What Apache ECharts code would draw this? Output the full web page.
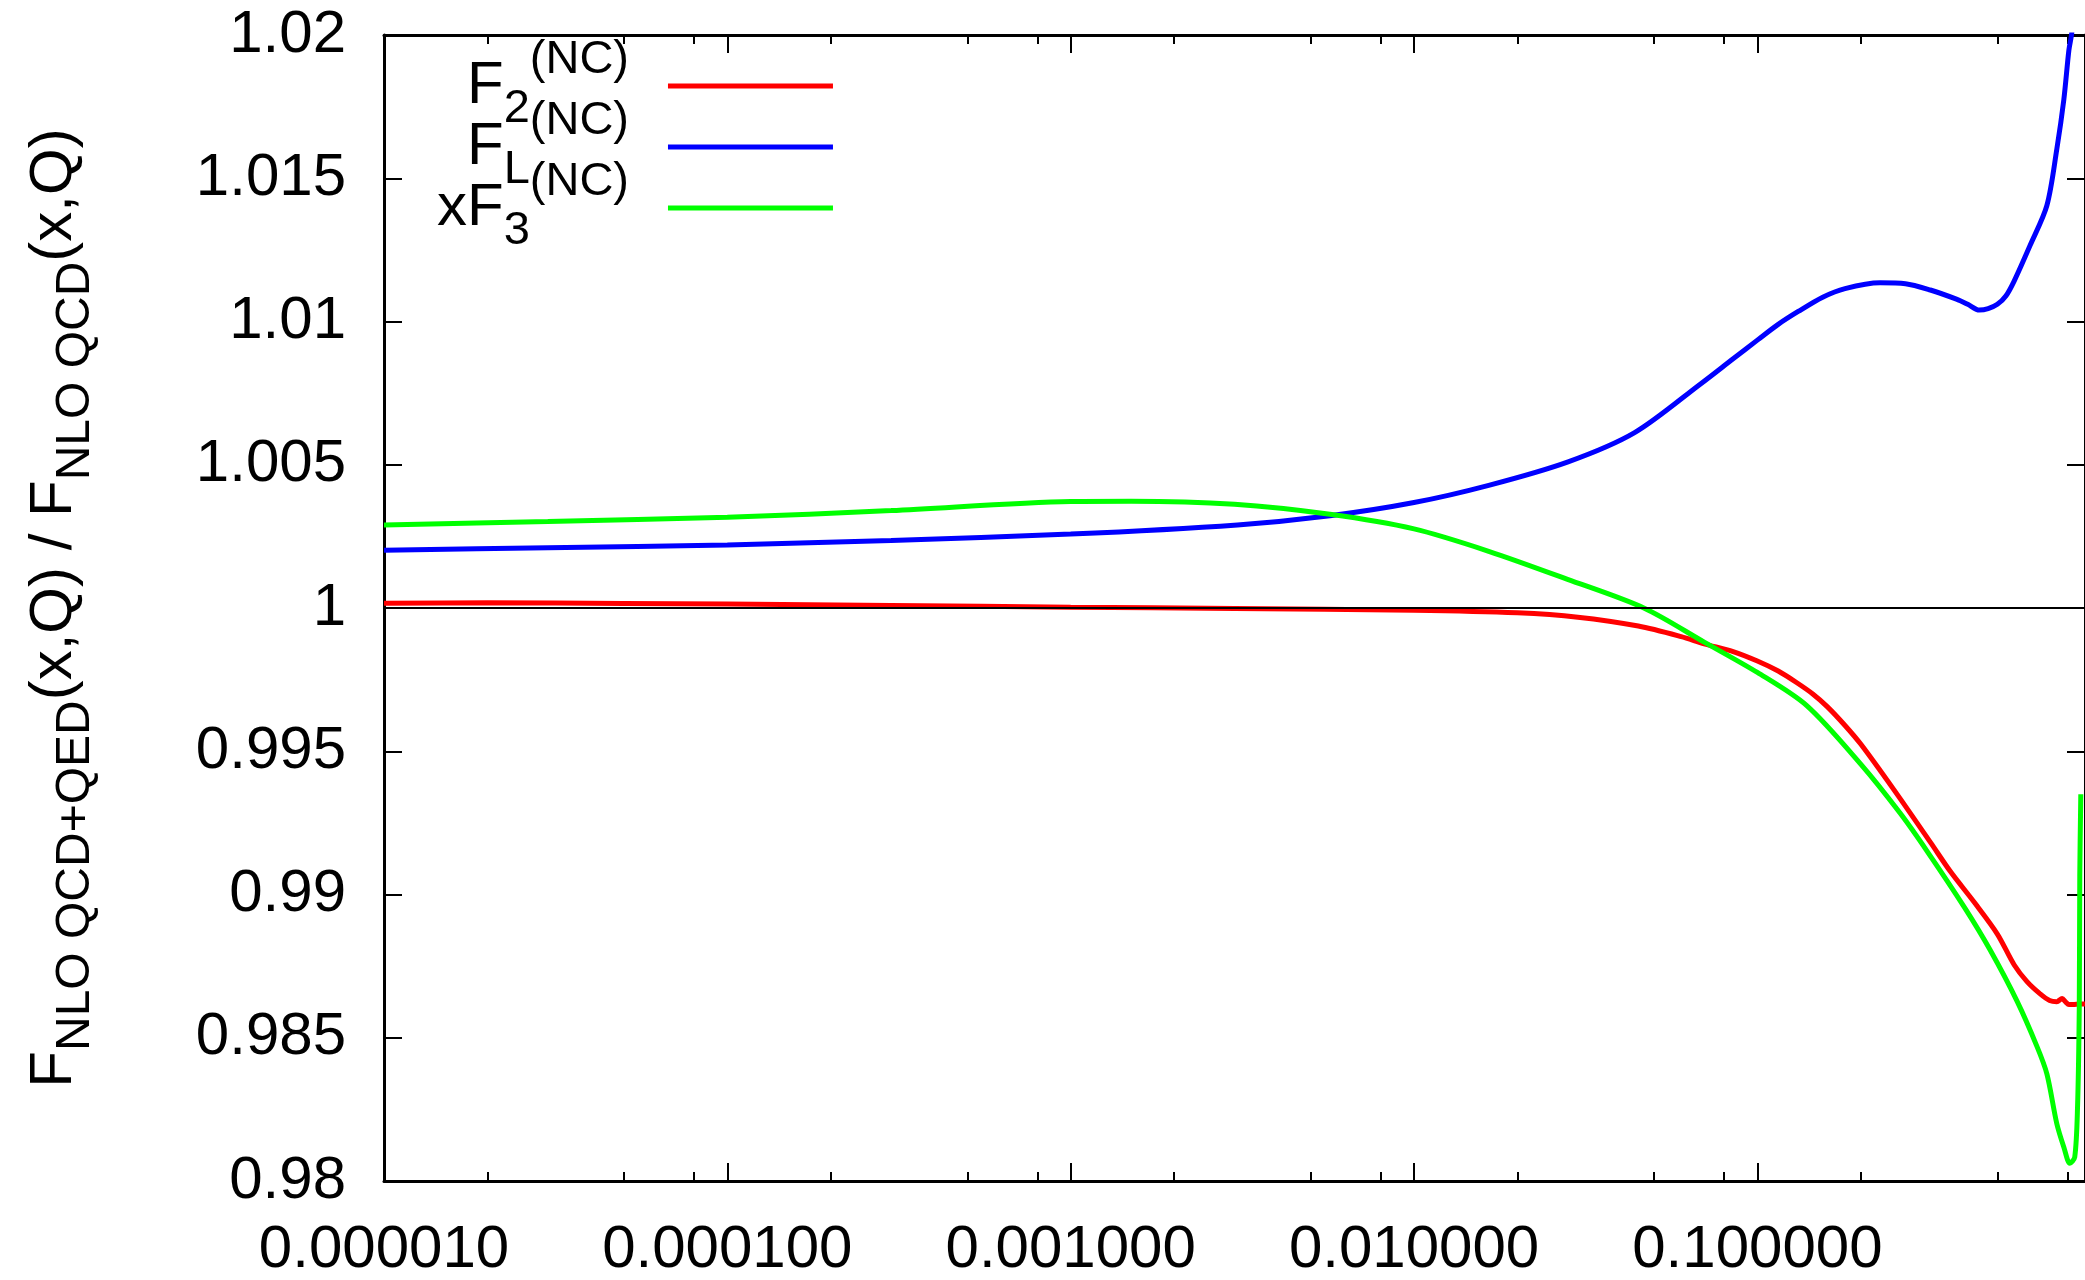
<!DOCTYPE html>
<html><head><meta charset="utf-8">
<script src="https://cdn.jsdelivr.net/npm/echarts@6/dist/echarts.min.js"></script>
<style>html,body{margin:0;padding:0;background:#fff;}#c{width:2085px;height:1280px;}</style>
</head><body><div id="c"></div>
<script>
const FONT = '"Liberation Sans", Arial, Helvetica, sans-serif';

// ---- data (x values, ratio values) ----
const f2X = [1e-5, 2e-5, 5e-5, 1e-4, 3e-4, 1e-3, 3e-3, 0.01, 0.02, 0.03, 0.045, 0.06, 0.07, 0.085, 0.1, 0.115, 0.13, 0.145, 0.16, 0.18, 0.2, 0.25, 0.32, 0.365, 0.43, 0.5, 0.56, 0.61, 0.665, 0.71, 0.745, 0.772, 0.79, 0.808, 0.83, 0.87, 0.9];
const f2Y = [1.00017, 1.00018, 1.00016, 1.00014, 1.00009, 1.00003, 0.99998, 0.99992, 0.99983, 0.99968, 0.99937, 0.99900, 0.99875, 0.99848, 0.99815, 0.99780, 0.99740, 0.99700, 0.99655, 0.99590, 0.99525, 0.99365, 0.99180, 0.99080, 0.98970, 0.98862, 0.98754, 0.98696, 0.98654, 0.98630, 0.98626, 0.98637, 0.98625, 0.98616, 0.98616, 0.98618, 0.98618];

const flX = [1e-5, 3e-5, 1e-4, 3e-4, 1e-3, 3.06e-3, 5.69e-3, 0.01, 0.0165, 0.0281, 0.0439, 0.0683, 0.085, 0.1, 0.115, 0.1315, 0.155, 0.18, 0.2277, 0.27, 0.319, 0.38, 0.41, 0.443, 0.47, 0.5, 0.53, 0.56, 0.623, 0.697, 0.745, 0.781, 0.808, 0.824, 0.84];
const flY = [1.00202, 1.00210, 1.00220, 1.00236, 1.00258, 1.00290, 1.00322, 1.00368, 1.00428, 1.00510, 1.00612, 1.00782, 1.00870, 1.00935, 1.00990, 1.01035, 1.01085, 1.01115, 1.01135, 1.01132, 1.01110, 1.01078, 1.01060, 1.01040, 1.01045, 1.01060, 1.01090, 1.01142, 1.01266, 1.01405, 1.01602, 1.01775, 1.01948, 1.02010, 1.02200];

const xf3X = [1e-5, 3e-5, 1e-4, 3e-4, 1e-3, 1.5e-3, 3e-3, 5.69e-3, 0.01, 0.0165, 0.028, 0.0467, 0.0702, 0.1, 0.139, 0.2, 0.26, 0.313, 0.401, 0.476, 0.571, 0.652, 0.697, 0.745, 0.781, 0.813, 0.84, 0.856, 0.866, 0.869, 0.875];
const xf3Y = [1.00290, 1.00302, 1.00317, 1.00340, 1.00372, 1.00373, 1.00362, 1.00327, 1.00276, 1.00198, 1.00100, 1.00000, 0.99880, 0.99775, 0.99660, 0.99455, 0.99285, 0.99149, 0.98955, 0.98807, 0.98627, 0.98470, 0.98374, 0.98200, 0.98118, 0.98062, 0.98083, 0.98256, 0.98602, 0.99066, 0.99350];

const seriesNames = ['F2', 'FL', 'xF3'];
const seriesColors = ['#ff0000', '#0000ff', '#00ff00'];
const legendRich = {
  'F2': '{m|F}{sb|2}{sp|(NC)}',
  'FL': '{m|F}{sb|L}{sp|(NC)}',
  'xF3': '{m|xF}{sb|3}{sp|(NC)}'
};
const yTitle = '{m|F}{s|NLO QCD+QED}{m|(x,Q) / F}{s|NLO QCD}{m|(x,Q)}';

const xMin = 1e-5, xMax = 0.9;
const xMajorTicks = [1e-5, 1e-4, 1e-3, 1e-2, 1e-1];
const xMinorTicks = [2e-5, 5e-5, 8e-5, 2e-4, 5e-4, 8e-4, 2e-3, 5e-3, 8e-3, 2e-2, 5e-2, 8e-2, 0.2, 0.5, 0.8];
const yMin = 0.98, yMax = 1.02, yStep = 0.005;
const refLine = 1;

// ---- build ----
const lg = Math.log10;
const pairs = (xs, ys) => xs.map((x, i) => [lg(x), ys[i]]);
const seriesData = [pairs(f2X, f2Y), pairs(flX, flY), pairs(xf3X, xf3Y)];

const axisLineStyle = {color: '#000', width: 3};
function xAx(pos, major, withLine, withLabels) {
  const vals = (major ? xMajorTicks : xMinorTicks).map(lg);
  return {
    type: 'value', gridIndex: 0, position: pos, min: lg(xMin), max: lg(xMax),
    splitLine: {show: false},
    axisLine: {show: withLine, onZero: false, lineStyle: axisLineStyle},
    axisTick: {show: true, inside: true, length: major ? 18 : 9, customValues: vals, lineStyle: {color: '#000', width: 2}},
    axisLabel: withLabels ? {
      show: true, customValues: vals, margin: 39, fontSize: 60, fontFamily: FONT, color: '#000',
      formatter: v => Math.pow(10, v).toFixed(6)
    } : {show: false}
  };
}
function yAx(pos, withLabels) {
  return {
    type: 'value', gridIndex: 0, position: pos, min: yMin, max: yMax, interval: yStep,
    splitLine: {show: false},
    axisLine: {show: true, onZero: false, lineStyle: axisLineStyle},
    axisTick: {show: true, inside: true, length: 18, lineStyle: {color: '#000', width: 2}},
    axisLabel: withLabels ? {show: true, margin: 38, fontSize: 60, fontFamily: FONT, color: '#000'} : {show: false}
  };
}
const yLeft = yAx('left', true);
Object.assign(yLeft, {
  name: yTitle, nameLocation: 'middle', nameRotate: 90, nameGap: 290,
  nameTextStyle: {
    color: '#000',
    rich: {
      m: {fontSize: 60, lineHeight: 80, fontFamily: FONT, color: '#000'},
      s: {fontSize: 48, lineHeight: 80, fontFamily: FONT, color: '#000', padding: [44, 0, 0, 0]}
    }
  }
});

const series = seriesNames.map((n, i) => ({
  name: n, type: 'line', xAxisIndex: 0, yAxisIndex: 0,
  data: seriesData[i], symbol: 'none', smooth: 0.3, clip: true,
  lineStyle: {color: seriesColors[i], width: 5}, itemStyle: {color: seriesColors[i]},
  emphasis: {disabled: true}, z: 3
}));
series[0].markLine = {
  silent: true, symbol: 'none', label: {show: false}, animation: false,
  lineStyle: {color: '#000', width: 2, type: 'solid'},
  data: [{yAxis: refLine}]
};

const chart = echarts.init(document.getElementById('c'), null, {renderer: 'canvas'});
chart.setOption({
  animation: false,
  backgroundColor: '#fff',
  grid: {left: 379, top: 35, width: 1710, height: 1156, containLabel: false},
  xAxis: [xAx('bottom', true, true, true), xAx('bottom', false, false, false), xAx('top', true, true, false), xAx('top', false, false, false)],
  yAxis: [yLeft, yAx('right', false)],
  legend: {
    show: true, orient: 'vertical', align: 'right', left: 437, top: 37, padding: 0, itemGap: -37,
    itemWidth: 165, itemHeight: 5, icon: 'rect', selectedMode: false,
    data: seriesNames,
    formatter: n => legendRich[n],
    textStyle: {
      fontSize: 60, fontFamily: FONT, color: '#000',
      rich: {
        m: {fontSize: 60, lineHeight: 61, fontFamily: FONT, color: '#000'},
        sb: {fontSize: 47, lineHeight: 61, fontFamily: FONT, color: '#000', padding: [47, 0, 0, 0]},
        sp: {fontSize: 47, lineHeight: 61, fontFamily: FONT, color: '#000', padding: [0, 34, 51, 0]}
      }
    }
  },
  series: series
});
</script></body></html>
